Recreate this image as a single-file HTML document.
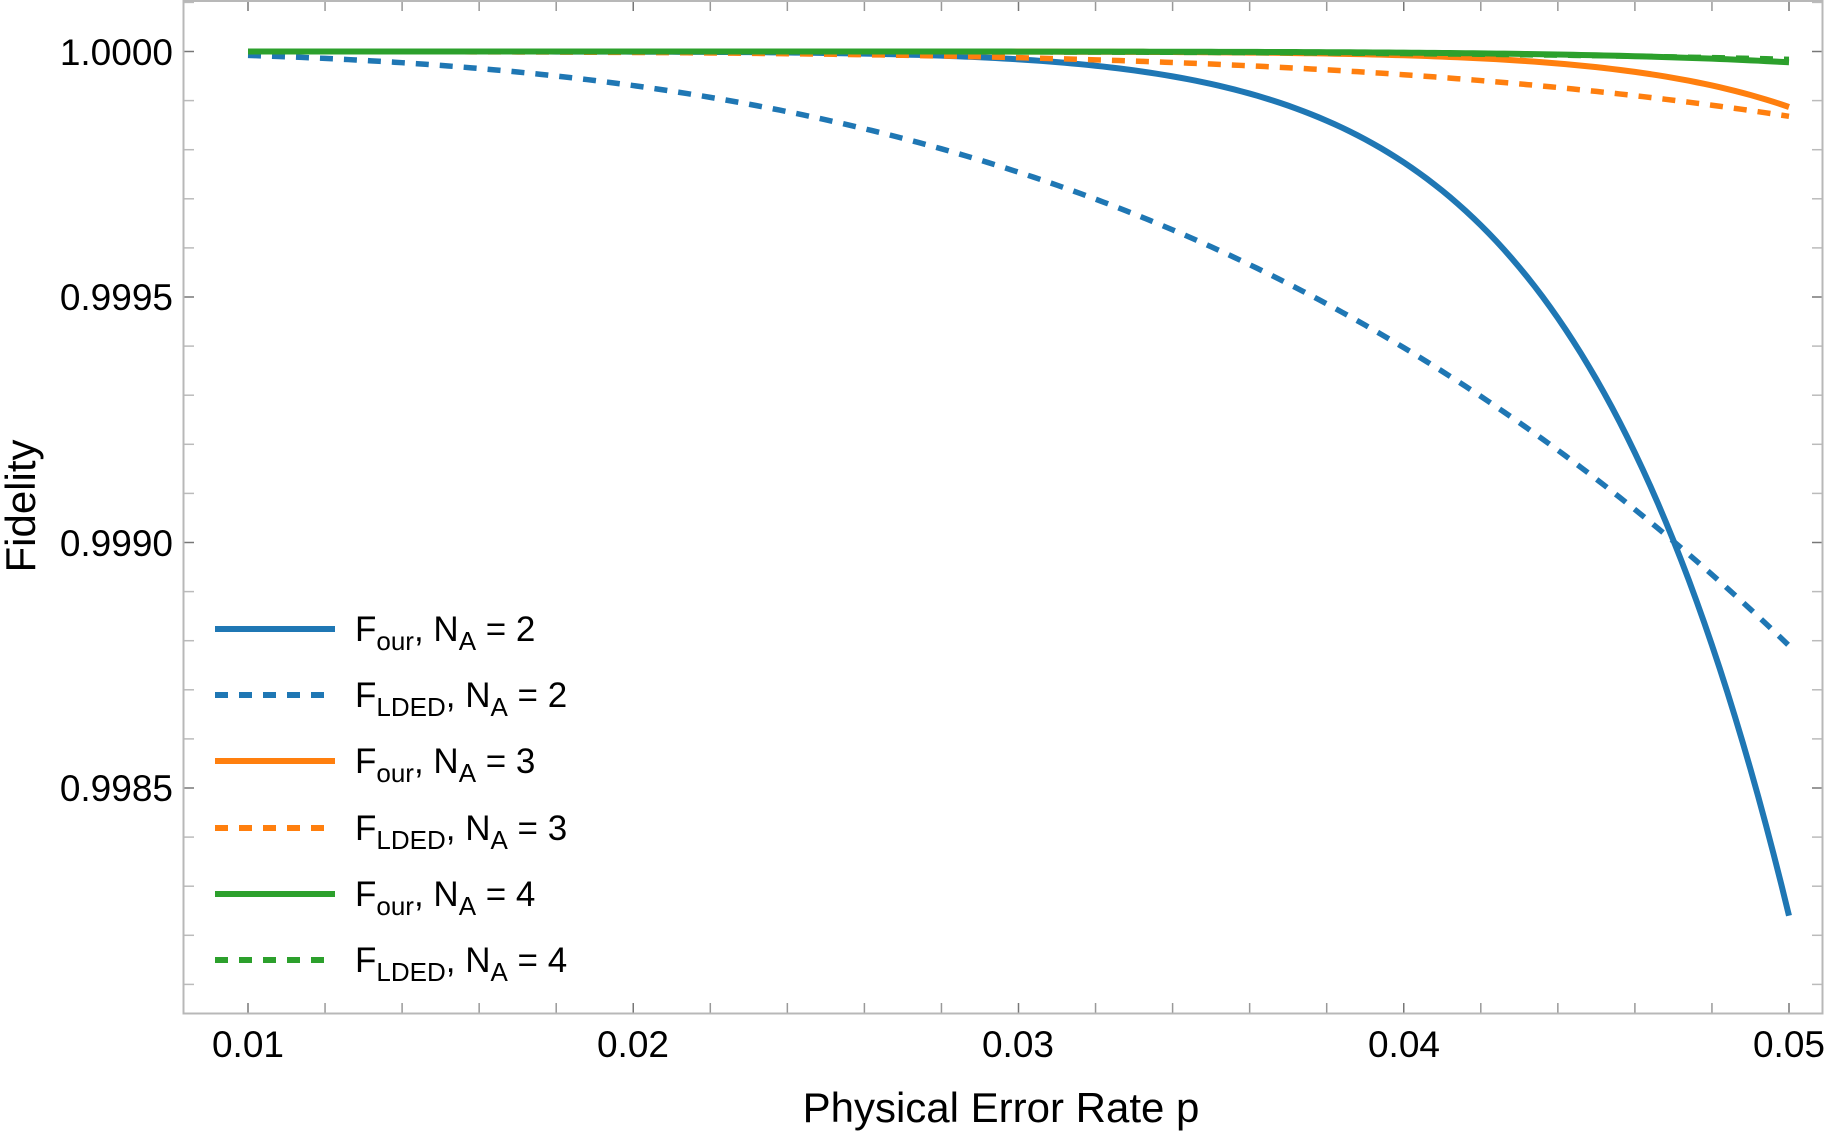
<!DOCTYPE html>
<html><head><meta charset="utf-8"><style>
html,body{margin:0;padding:0;background:#fff;}
svg{display:block;font-family:"Liberation Sans",sans-serif;}
</style></head><body>
<svg id="s" width="1825" height="1134" viewBox="0 0 1825 1134" xmlns="http://www.w3.org/2000/svg">
<rect x="0" y="0" width="1825" height="1134" fill="#fff"/>
<g id="ticks"></g>
<rect x="183.5" y="1" width="1639" height="1012.5" fill="none" stroke="#b8b8b8" stroke-width="2"/>
<g id="curves" fill="none" stroke-linecap="butt"></g>
<g font-size="37" fill="#000" text-anchor="end">
<text x="173" y="65">1.0000</text>
<text x="173" y="310">0.9995</text>
<text x="173" y="556">0.9990</text>
<text x="173" y="801">0.9985</text>
</g>
<g font-size="37" fill="#000" text-anchor="middle">
<text x="248" y="1057">0.01</text>
<text x="633" y="1057">0.02</text>
<text x="1018" y="1057">0.03</text>
<text x="1404" y="1057">0.04</text>
<text x="1789" y="1057">0.05</text>
</g>
<text x="1001" y="1122" font-size="42" text-anchor="middle">Physical Error Rate p</text>
<text transform="translate(35,506) rotate(-90)" font-size="42" text-anchor="middle">Fidelity</text>
<g stroke-width="6">
<line x1="215" y1="629" x2="335" y2="629" stroke="#1f77b4"/>
<line x1="215" y1="695" x2="335" y2="695" stroke="#1f77b4" stroke-dasharray="13,11"/>
<line x1="215" y1="761" x2="335" y2="761" stroke="#ff7f0e"/>
<line x1="215" y1="828" x2="335" y2="828" stroke="#ff7f0e" stroke-dasharray="13,11"/>
<line x1="215" y1="894" x2="335" y2="894" stroke="#2ca02c"/>
<line x1="215" y1="960" x2="335" y2="960" stroke="#2ca02c" stroke-dasharray="13,11"/>
</g>
<g font-size="35" fill="#000">
<text x="355" y="641">F<tspan font-size="26" dy="9">our</tspan><tspan dy="-9">, N</tspan><tspan font-size="26" dy="9">A</tspan><tspan dy="-9"> = 2</tspan></text>
<text x="355" y="707">F<tspan font-size="26" dy="9">LDED</tspan><tspan dy="-9">, N</tspan><tspan font-size="26" dy="9">A</tspan><tspan dy="-9"> = 2</tspan></text>
<text x="355" y="773">F<tspan font-size="26" dy="9">our</tspan><tspan dy="-9">, N</tspan><tspan font-size="26" dy="9">A</tspan><tspan dy="-9"> = 3</tspan></text>
<text x="355" y="840">F<tspan font-size="26" dy="9">LDED</tspan><tspan dy="-9">, N</tspan><tspan font-size="26" dy="9">A</tspan><tspan dy="-9"> = 3</tspan></text>
<text x="355" y="906">F<tspan font-size="26" dy="9">our</tspan><tspan dy="-9">, N</tspan><tspan font-size="26" dy="9">A</tspan><tspan dy="-9"> = 4</tspan></text>
<text x="355" y="972">F<tspan font-size="26" dy="9">LDED</tspan><tspan dy="-9">, N</tspan><tspan font-size="26" dy="9">A</tspan><tspan dy="-9"> = 4</tspan></text>
</g>
</svg>
<script>
(function(){
var NS="http://www.w3.org/2000/svg";
function X(p){return 248+(p-0.01)*38525;}
function Y(v){return 51.5+(1-v)*491000;}
var tk=document.getElementById("ticks");
function ln(x1,y1,x2,y2,c,w){var l=document.createElementNS(NS,"line");l.setAttribute("x1",x1);l.setAttribute("y1",y1);l.setAttribute("x2",x2);l.setAttribute("y2",y2);l.setAttribute("stroke",c);l.setAttribute("stroke-width",w||1.5);tk.appendChild(l);}
for(var i=0;i<=21;i++){var p=0.01+i*0.002;var x=X(p);if(x>1822)break;var maj=(i%5==0);var c=maj?"#777":"#999";
ln(x,1013,x,1003,c);ln(x,1,x,11,c);}
for(var j=-1;j<=19;j++){var v=1-j*0.0001;var y=Y(v);if(y<2||y>1012)continue;var maj=(j%5==0);var c=maj?"#777":"#bbb";
ln(184,y,194,y,c);ln(1822,y,1812,y,c);}
var cv=document.getElementById("curves");
function curve(f,col,dash){var d="";for(var k=0;k<=200;k++){var p=0.01+0.04*k/200;d+=(k?"L":"M")+X(p).toFixed(2)+","+Y(f(p)).toFixed(2);}
var pa=document.createElementNS(NS,"path");pa.setAttribute("d",d);pa.setAttribute("stroke",col);pa.setAttribute("stroke-width",dash?5.5:6);if(dash)pa.setAttribute("stroke-dasharray","13,11");cv.appendChild(pa);}
curve(function(p){return 1-1.76e-3*Math.pow(p/0.05,9.2);},"#1f77b4",false);
curve(function(p){return 1-1.21e-3*Math.pow(p/0.05,3.12);},"#1f77b4",true);
curve(function(p){return 1-1.13e-4*Math.pow(p/0.05,12);},"#ff7f0e",false);
curve(function(p){return 1-1.32e-4*Math.pow(p/0.05,4.6);},"#ff7f0e",true);
curve(function(p){return 1-2.2e-5*Math.pow(p/0.05,10);},"#2ca02c",false);
curve(function(p){return 1-1.6e-5*Math.pow(p/0.05,6);},"#2ca02c",true);
})();
</script>
</body></html>
